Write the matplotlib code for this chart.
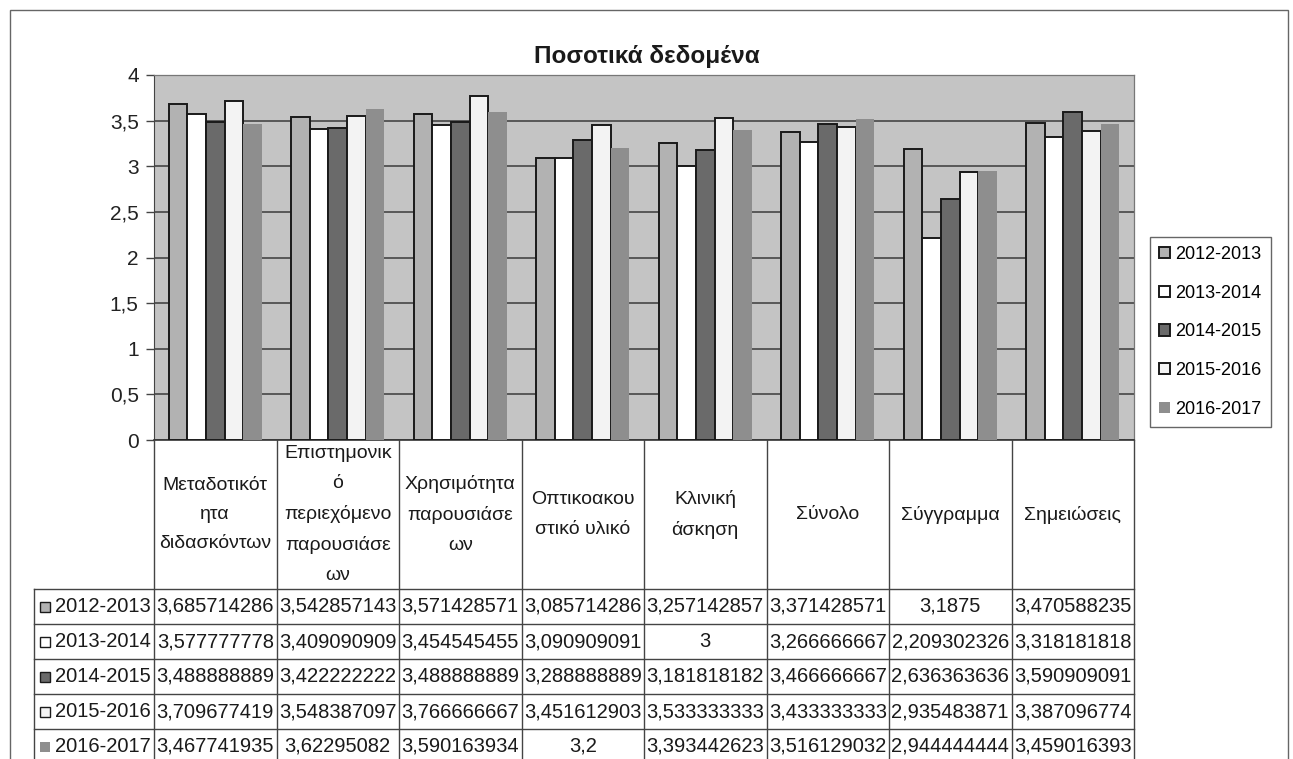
import numpy as np
import matplotlib
matplotlib.use("Agg")
import matplotlib.pyplot as plt
from matplotlib.transforms import blended_transform_factory
from matplotlib.patches import Rectangle
from matplotlib.lines import Line2D

plt.rcParams["font.family"] = ["Liberation Sans", "DejaVu Sans"]

# Données
categories = [
    "Μεταδοτικότ\nητα\nδιδασκόντων",
    "Επιστημονικ\nό\nπεριεχόμενο\nπαρουσιάσε\nων",
    "Χρησιμότητα\nπαρουσιάσε\nων",
    "Οπτικοακου\nστικό υλικό",
    "Κλινική\nάσκηση",
    "Σύνολο",
    "Σύγγραμμα",
    "Σημειώσεις",
]
years = ["2012-2013", "2013-2014", "2014-2015", "2015-2016", "2016-2017"]

v_2012 = [3.685714286, 3.542857143, 3.571428571, 3.085714286, 3.257142857, 3.371428571, 3.1875, 3.470588235]
v_2013 = [3.577777778, 3.409090909, 3.454545455, 3.090909091, 3.0, 3.266666667, 2.209302326, 3.318181818]
v_2014 = [3.488888889, 3.422222222, 3.488888889, 3.288888889, 3.181818182, 3.466666667, 2.636363636, 3.590909091]
v_2015 = [3.709677419, 3.548387097, 3.766666667, 3.451612903, 3.533333333, 3.433333333, 2.935483871, 3.387096774]
v_2016 = [3.467741935, 3.62295082, 3.590163934, 3.2, 3.393442623, 3.516129032, 2.944444444, 3.459016393]
series = [v_2012, v_2013, v_2014, v_2015, v_2016]

# texte du tableau tel qu'affiché dans Excel
table_txt = [
    ["3,685714286", "3,542857143", "3,571428571", "3,085714286", "3,257142857", "3,371428571", "3,1875", "3,470588235"],
    ["3,577777778", "3,409090909", "3,454545455", "3,090909091", "3", "3,266666667", "2,209302326", "3,318181818"],
    ["3,488888889", "3,422222222", "3,488888889", "3,288888889", "3,181818182", "3,466666667", "2,636363636", "3,590909091"],
    ["3,709677419", "3,548387097", "3,766666667", "3,451612903", "3,533333333", "3,433333333", "2,935483871", "3,387096774"],
    ["3,467741935", "3,62295082", "3,590163934", "3,2", "3,393442623", "3,516129032", "2,944444444", "3,459016393"],
]

colors = ["#b2b2b2", "#ffffff", "#6a6a6a", "#f3f3f3", "#8e8e8e"]
edges = ["#1a1a1a", "#1a1a1a", "#1a1a1a", "#1a1a1a", "none"]

W, H = 1293, 759
fig = plt.figure(figsize=(W / 100, H / 100), dpi=100)

def fx(px):
    return px / W

def fy(py):
    return 1 - py / H

# cadre extérieur
fig.add_artist(Rectangle((fx(10), fy(775)), fx(1288) - fx(10), fy(10) - fy(775),
                         transform=fig.transFigure, fill=False, ec="#666666", lw=1.0))

ax_l, ax_r, ax_t, ax_b = 154, 1134, 75, 440
ax = fig.add_axes([fx(ax_l), fy(ax_b), fx(ax_r) - fx(ax_l), fy(ax_t) - fy(ax_b)])
ax.set_facecolor("#c4c4c4")

n = len(categories)
x = np.arange(n)
bw = 0.152
for i, vals in enumerate(series):
    ax.bar(x + (i - 2) * bw, vals, width=bw, color=colors[i], edgecolor=edges[i],
           linewidth=1.4, label=years[i], zorder=3)

ax.set_xlim(-0.5, n - 0.5)
ax.set_ylim(0, 4)
yt = np.arange(0, 4.01, 0.5)
ax.set_yticks(yt)
ax.set_yticklabels([f"{v:g}".replace(".", ",") for v in yt], fontsize=15, color="#222222")
ax.set_xticks([])
ax.yaxis.grid(True, color="#3a3a3a", lw=1.1, zorder=1)
ax.tick_params(axis="y", length=6, width=1, color="#444444", pad=5)
for s in ["top", "right"]:
    ax.spines[s].set_color("#777777")
    ax.spines[s].set_linewidth(0.9)
ax.spines["left"].set_color("#444444")
ax.spines["bottom"].set_color("#333333")
ax.spines["bottom"].set_linewidth(1.2)

fig.text(0.5, fy(57), "Ποσοτικά δεδομένα", ha="center", va="center",
         fontsize=17.5, fontweight="bold", color="#1a1a1a")

# légende
leg = fig.legend(loc="upper left", bbox_to_anchor=(fx(1150), fy(237)), fontsize=13,
                 frameon=True, fancybox=False, edgecolor="#666666", framealpha=1,
                 handlelength=0.6, handleheight=0.6, handletextpad=0.3,
                 labelspacing=1.2, borderpad=0.5, borderaxespad=0)
leg.get_frame().set_linewidth(1.0)

# tableau de données sous le graphique
tr = blended_transform_factory(ax.transData, fig.transFigure)
row_top = 589
row_h = 35
table_bottom = 775
lc = "#444444"

# lignes verticales des colonnes
for k in range(n + 1):
    fig.add_artist(Line2D([k - 0.5, k - 0.5], [fy(ax_b), fy(table_bottom)],
                          transform=tr, color=lc, lw=1.0))
# colonne des libellés
fig.add_artist(Line2D([fx(34), fx(34)], [fy(row_top), fy(table_bottom)],
                      transform=fig.transFigure, color=lc, lw=1.0))
for r in range(len(years) + 1):
    yy = fy(row_top + r * row_h)
    fig.add_artist(Line2D([fx(34), fx(ax_r)], [yy, yy], transform=fig.transFigure,
                          color=lc, lw=1.0))

# libellés des catégories
for k, c in enumerate(categories):
    fig.text(k, fy((ax_b + row_top) / 2), c, transform=tr, ha="center", va="center",
             fontsize=14, color="#1a1a1a", linespacing=1.95)

# valeurs et libellés de lignes
for r, yr in enumerate(years):
    yc = fy(row_top + r * row_h + row_h / 2)
    fig.add_artist(Rectangle((fx(40), yc - 5 / H), 10 / W, 10 / H, transform=fig.transFigure,
                             facecolor=colors[r], edgecolor="#1a1a1a" if edges[r] != "none" else "none",
                             lw=1.0))
    fig.text(fx(55), yc, yr, ha="left", va="center", fontsize=14.5, color="#1a1a1a")
    for k in range(n):
        fig.text(k, yc, table_txt[r][k], transform=tr, ha="center", va="center",
                 fontsize=14.5, color="#1a1a1a")

fig.savefig("out.png", dpi=100)
